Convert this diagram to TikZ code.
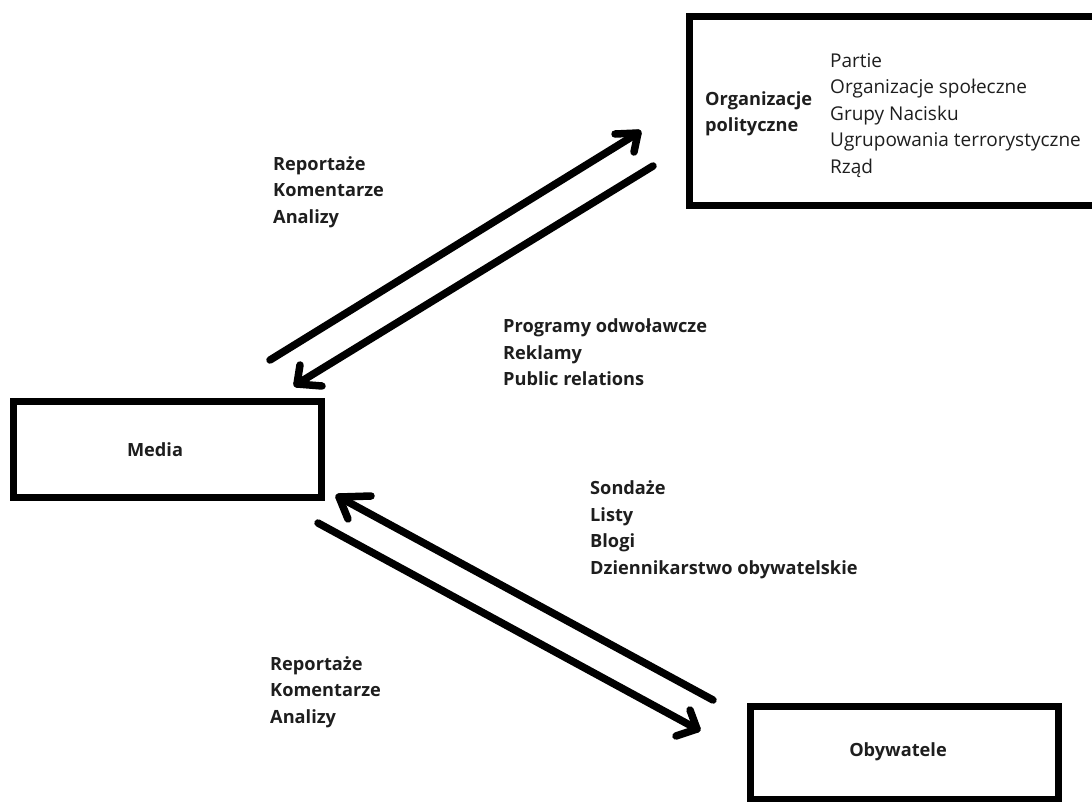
\documentclass[tikz,border=0pt]{standalone}
\usepackage{fontspec}
\setmainfont{Open Sans}
\usetikzlibrary{calc}
\definecolor{ink}{HTML}{1E1E1E}
\tikzset{
  box/.style={draw=black, line width=7pt, inner sep=0pt},
  flow/.style={draw=black, line width=7.5pt, line cap=round, line join=round},
  title/.style={inner sep=0pt, text=ink, font=\fontsize{18.2}{20}\selectfont\bfseries},
  lbl/.style={anchor=west, align=left, inner sep=0pt, text=ink,
    font=\fontsize{18.2}{26.5}\selectfont\bfseries},
  lst/.style={anchor=west, align=left, inner sep=0pt, text=ink,
    font=\fontsize{19}{26.5}\selectfont},
}
\begin{document}
\begin{tikzpicture}[x=1pt, y=-1pt]
\useasboundingbox (0,0) rectangle (1092,801);
\fill[white] (0,0) rectangle (1092,801);

% the three boxes
\node[box, minimum width=409pt, minimum height=189pt] (org) at (893.5,110.5) {};
\node[box, minimum width=307.5pt, minimum height=95.5pt] (media) at (167.25,449.25) {};
\node[box, minimum width=308pt, minimum height=93pt] (obyw) at (904,752.5) {};

% box titles
\node[title] (medianame) at (155,450) {Media};
\node[title] (obywname) at (898,752) {Obywatele};

% contents of the organisations box
\node[lbl] (orgname) at (705,114) {Organizacje\\polityczne};
\node[lst] (orglist) at (830,115.5) {Partie\\Organizacje społeczne\\Grupy Nacisku\\Ugrupowania terrorystyczne\\Rząd};

% labels of the flows
\node[lbl] (l1) at (273,192) {Reportaże\\Komentarze\\Analizy};
\node[lbl] (l2) at (503,352.5) {Programy odwoławcze\\Reklamy\\Public relations};
\node[lbl] (l3) at (590,530) {Sondaże\\Listy\\Blogi\\Dziennikarstwo obywatelskie};
\node[lbl] (l4) at (270,692) {Reportaże\\Komentarze\\Analizy};

% end points of the hand-drawn arrows
\coordinate (a1s) at (270,360);  \coordinate (a1t) at (638,133);
\coordinate (a1b) at (615,134);  \coordinate (a1c) at (634,152);
\coordinate (a2s) at (653,166);  \coordinate (a2t) at (297,384);
\coordinate (a2b) at (300,365);  \coordinate (a2c) at (322,386);
\coordinate (a3s) at (713,700);  \coordinate (a3t) at (339,497);
\coordinate (a3b) at (371,496);  \coordinate (a3c) at (348,519);
\coordinate (a4s) at (318,523);  \coordinate (a4t) at (697,729);
\coordinate (a4b) at (690,710);  \coordinate (a4c) at (676,736);

% Media -> organizacje
\draw[flow] (a1s) -- (a1t);
\draw[flow] (a1b) -- (a1t) -- (a1c);
% organizacje -> Media
\draw[flow] (a2s) -- (a2t);
\draw[flow] (a2b) -- (a2t) -- (a2c);
% obywatele -> Media
\draw[flow] (a3s) -- (a3t);
\draw[flow] (a3b) -- (a3t) -- (a3c);
% Media -> obywatele
\draw[flow] (a4s) -- (a4t);
\draw[flow] (a4b) -- (a4t) -- (a4c);
\end{tikzpicture}
\end{document}
